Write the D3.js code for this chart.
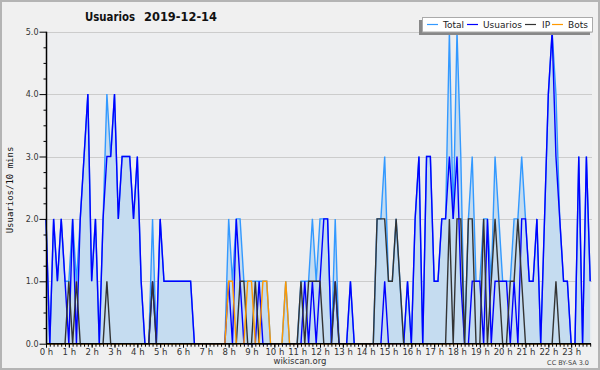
<!DOCTYPE html>
<html><head><meta charset="utf-8">
<script src="https://cdn.jsdelivr.net/npm/d3@7/dist/d3.min.js"></script>
<style>body{margin:0;background:#f0f0f0}svg{display:block}</style>
</head><body><svg id="c" width="600" height="370"></svg>
<script>
// 10-minute slots, 0:00 .. 23:50
const slots = d3.range(144).map(i => i * 10);
const hourTicks = d3.range(24).map(h => h * 60);
const hourLabels = d3.range(24).map(h => h + " h");
const yTicks = [0, 1, 2, 3, 4, 5];
const yTickLabels = ["0.0", "1.0", "2.0", "3.0", "4.0", "5.0"];
const seriesNames = ["Total", "Usuarios", "IP", "Bots"];
const seriesColors = ["#3399ff", "#0000ff", "#333333", "#ff9900"];

const usuarios = [
  2,0,2,1,2,1,0,2,0,2,3,4,
  1,2,0,2,3,3,4,2,3,3,3,2,
  3,1,0,0,1,0,2,1,1,1,1,1,
  1,1,1,0,0,0,0,0,0,0,0,0,
  1,0,2,1,0,0,0,0,1,0,0,0,
  0,0,0,0,0,0,0,0,1,0,1,0,
  1,2,2,0,1,0,0,0,1,0,0,0,
  0,0,0,0,0,1,0,0,0,0,0,1,
  0,2,3,0,3,3,1,1,2,2,3,2,
  3,1,0,0,1,1,1,0,2,0,1,1,
  1,1,0,1,0,2,2,1,1,2,0,2,
  4,5,3,2,1,1,0,0,3,0,3,1];
const ip = [
  0,0,0,0,0,0,1,0,1,0,0,0,
  0,0,0,0,1,0,0,0,0,0,0,0,
  0,0,0,0,1,0,0,0,0,0,0,0,
  0,0,0,0,0,0,0,0,0,0,0,0,
  0,0,0,1,1,0,0,1,0,0,0,0,
  0,0,0,0,0,0,0,1,0,1,1,1,
  1,0,0,0,1,0,0,0,0,0,0,0,
  0,0,0,2,2,2,1,1,2,1,0,0,
  0,0,0,0,0,0,0,0,0,0,2,0,
  2,2,0,2,2,0,0,2,0,1,2,1,
  0,0,1,1,2,1,0,0,0,0,0,0,
  0,0,1,0,0,0,0,0,0,0,0,0];
const bots = [
  0,0,0,0,0,0,0,0,0,0,0,0,
  0,0,0,0,0,0,0,0,0,0,0,0,
  0,0,0,0,0,0,0,0,0,0,0,0,
  0,0,0,0,0,0,0,0,0,0,0,0,
  1,1,0,0,0,1,1,0,0,1,1,0,
  0,0,0,1,0,0,0,0,0,0,0,0,
  0,0,0,0,0,0,0,0,0,0,0,0,
  0,0,0,0,0,0,0,0,0,0,0,0,
  0,0,0,0,0,0,0,0,0,0,0,0,
  0,0,0,0,0,0,0,0,0,0,0,0,
  0,0,0,0,0,0,0,0,0,0,0,0,
  0,0,0,0,0,0,0,0,0,0,0,0];
const total = [
  2,0,2,1,2,1,1,2,1,2,3,4,
  1,2,0,2,4,3,4,2,3,3,3,2,
  3,1,0,0,2,0,2,1,1,1,1,1,
  1,1,1,0,0,0,0,0,0,0,0,0,
  2,1,2,2,1,1,1,1,1,1,1,0,
  0,0,0,1,0,0,0,1,1,1,2,1,
  2,2,2,0,2,0,0,0,1,0,0,0,
  0,0,0,2,2,3,1,1,2,1,0,1,
  0,2,3,0,3,3,1,1,2,2,5,2,
  5,3,0,2,3,1,1,2,2,1,3,2,
  1,1,1,2,2,3,2,1,1,2,0,2,
  4,5,4,2,1,1,0,0,3,0,3,1];

const svg = d3.select("#c");
const W = 600, H = 370;
const x = d3.scaleLinear().domain([0, 1440]).range([46, 594]);
const y = d3.scaleLinear().domain([0, 5]).range([343.7, 31.7]);

// background + border
svg.append("rect").attr("x", 1).attr("y", 1).attr("width", W - 2).attr("height", H - 2)
  .attr("fill", "#f0f0f0").attr("stroke", "#b4b4b4").attr("stroke-width", 2);
svg.append("rect").attr("x", 46).attr("y", y(5)).attr("width", 546).attr("height", y(0) - y(5))
  .attr("fill", "#edeef0");

// gridlines
svg.append("g").selectAll("line").data(yTicks.filter(v => v > 0)).join("line")
  .attr("x1", 46).attr("x2", 592).attr("y1", d => Math.round(y(d)) + 0.5).attr("y2", d => Math.round(y(d)) + 0.5)
  .attr("stroke", "#cccccc").attr("stroke-width", 1);

// area under total
const area = d3.area().x((d, i) => x(slots[i])).y0(y(0)).y1(d => y(d));
svg.append("path").datum(total).attr("d", area).attr("fill", "#c5dcf0");

const line = d3.line().x((d, i) => x(slots[i])).y(d => y(d));
[total, usuarios, ip, bots].forEach((s, k) => {
  svg.append("path").datum(s).attr("d", line).attr("fill", "none")
    .attr("stroke", seriesColors[k]).attr("stroke-width", 1.4).attr("stroke-linejoin", "miter");
});

// axes
const yAxisMajor = d3.axisLeft(y).tickValues(yTicks).tickSize(7).tickFormat((d, i) => yTickLabels[i]).tickPadding(1);
const gy = svg.append("g").attr("transform", "translate(46.5,0)").call(yAxisMajor);
gy.select(".domain").attr("stroke", "#000").attr("stroke-width", 1.5).attr("d", `M0,${y(5)}V${y(0)}`);
gy.selectAll(".tick line").attr("stroke", "#000");
gy.selectAll("text").attr("font-family", "DejaVu Sans").attr("font-size", 8).attr("fill", "#333");
const yAxisMinor = d3.axisLeft(y).tickValues(d3.range(0, 5.01, 0.25).filter(v => v % 1 !== 0)).tickSize(3).tickFormat("");
const gy2 = svg.append("g").attr("transform", "translate(46.5,0)").call(yAxisMinor);
gy2.select(".domain").remove();
gy2.selectAll(".tick line").attr("stroke", "#000");

const xAxisMinor = d3.axisBottom(x).tickValues(slots).tickSize(3).tickFormat("");
const gx2 = svg.append("g").attr("transform", `translate(0,${y(0)})`).call(xAxisMinor);
gx2.select(".domain").remove();
gx2.selectAll(".tick line").attr("stroke", "#000");
const xAxis = d3.axisBottom(x).tickValues(hourTicks).tickSize(4).tickFormat((d, i) => hourLabels[i]).tickPadding(1);
const gx = svg.append("g").attr("transform", `translate(0,${y(0)})`).call(xAxis);
gx.select(".domain").attr("stroke", "#000").attr("stroke-width", 1.5).attr("d", "M46,0H591");
gx.selectAll(".tick line").attr("stroke", "#000");
gx.selectAll("text").attr("font-family", "DejaVu Sans").attr("font-size", 8.5).attr("fill", "#333");

// title
svg.append("text").attr("x", 85).attr("y", 20.5).text("Usuarios")
  .attr("font-family", "DejaVu Sans").attr("font-weight", "bold").attr("font-size", 12)
  .attr("textLength", 50).attr("lengthAdjust", "spacingAndGlyphs").attr("fill", "#111");
svg.append("text").attr("x", 144).attr("y", 20.5).text("2019-12-14")
  .attr("font-family", "DejaVu Sans").attr("font-weight", "bold").attr("font-size", 12)
  .attr("textLength", 73).attr("lengthAdjust", "spacingAndGlyphs").attr("fill", "#111");

// y title
svg.append("text").attr("transform", "translate(13,190) rotate(-90)").attr("text-anchor", "middle")
  .text("Usuarios/10 mins").attr("font-family", "DejaVu Sans Mono").attr("font-size", 9).attr("fill", "#111");

// footer
svg.append("text").attr("x", 300).attr("y", 364).attr("text-anchor", "middle").text("wikiscan.org")
  .attr("font-family", "DejaVu Sans").attr("font-size", 8.5).attr("fill", "#333");
svg.append("text").attr("x", 589).attr("y", 365).attr("text-anchor", "end").text("CC BY-SA 3.0")
  .attr("font-family", "DejaVu Sans").attr("font-size", 6.5).attr("fill", "#444");

// legend
const lg = svg.append("g");
lg.append("rect").attr("x", 419).attr("y", 20).attr("width", 171).attr("height", 15).attr("fill", "#888");
lg.append("rect").attr("x", 422.5).attr("y", 17.5).attr("width", 170).attr("height", 14.5).attr("fill", "#fff").attr("stroke", "#aaa");
const lx = [427, 467, 525, 552];
const tx = [443, 483, 542, 568];
seriesNames.forEach((n, k) => {
  lg.append("line").attr("x1", lx[k]).attr("x2", lx[k] + 11).attr("y1", 24.5).attr("y2", 24.5)
    .attr("stroke", seriesColors[k]).attr("stroke-width", 1.2);
  lg.append("text").attr("x", tx[k]).attr("y", 28).text(n)
    .attr("font-family", "DejaVu Sans").attr("font-size", 9).attr("fill", "#222");
});
</script></body></html>
